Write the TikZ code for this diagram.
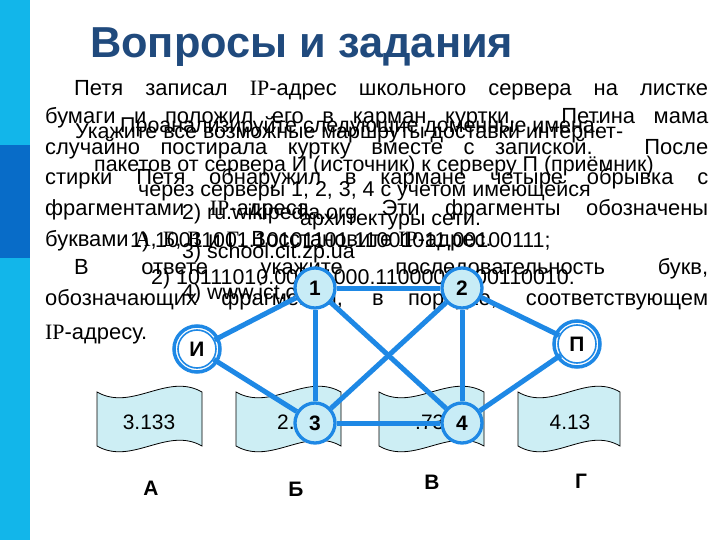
\documentclass[tikz,border=0pt]{standalone}
\usepackage{fontspec}
\setmainfont{Liberation Sans}
\newfontfamily\serifIP{Liberation Serif}
\definecolor{netblue}{RGB}{30,136,229}
\definecolor{nodefill}{RGB}{200,236,246}
\definecolor{fragfill}{RGB}{205,238,244}
\definecolor{barcyan}{RGB}{18,182,234}
\definecolor{bardark}{RGB}{8,108,200}
\definecolor{titleblue}{RGB}{32,74,125}
\pgfdeclarelayer{front}
\pgfsetlayers{main,front}
\newcommand{\wavebox}[4]{%
  \path[frag] (#1,#3) .. controls ({#1+(#2-#1)/3},{#3+20}) and ({#1+2*(#2-#1)/3},{#3-20}) .. (#2,#3)
    -- (#2,#4) .. controls ({#1+2*(#2-#1)/3},{#4-20}) and ({#1+(#2-#1)/3},{#4+20}) .. (#1,#4) -- cycle;}
\tikzset{
  frag/.style={draw=black, line width=0.8bp, fill=fragfill},
  txt/.style={anchor=base west, inner sep=0pt, font=\fontsize{22}{26}\selectfont},
  otxt/.style={anchor=base west, inner sep=0pt, font=\fontsize{21.5}{26}\selectfont},
  fragtxt/.style={inner sep=0pt, font=\fontsize{21}{25}\selectfont},
  letter/.style={inner sep=0pt, font=\fontsize{21}{25}\selectfont\bfseries},
  hub/.style={circle, draw=netblue, line width=3.3bp, fill=nodefill, minimum size=40bp, inner sep=0pt, font=\fontsize{21}{24}\selectfont\bfseries},
  term/.style={circle, draw=netblue, line width=1.6bp, fill=white, minimum size=38bp, inner sep=0pt, font=\fontsize{21}{24}\selectfont\bfseries},
  ring/.style={draw=netblue, line width=3.5bp},
  edge/.style={draw=netblue, line width=5bp}
}
\begin{document}
\begin{tikzpicture}[x=1bp,y=-1bp]
\useasboundingbox (0,0) rectangle (720,540);
\fill[white] (0,0) rectangle (720,540);
% left bar
\fill[barcyan] (0,0) rectangle (30,540);
\fill[bardark] (0,145) rectangle (30,258);
% title
\node[anchor=base west, inner sep=0pt, font=\fontsize{43.5}{48}\selectfont\bfseries, text=titleblue] (title) at (90,58) {Вопросы и задания};
% fragments
\wavebox{97}{202}{392}{446}
\wavebox{236}{341}{392}{446}
\wavebox{379}{484}{392}{446}
\wavebox{518}{620}{392}{446}
\node[fragtxt] (fa) at (149,422) {3.133};
\node[fragtxt, anchor=west] (fb) at (277,422) {2.};
\node[fragtxt, anchor=west] (fc) at (415,422) {.73};
\node[fragtxt] (fg) at (570,422) {4.13};
\node[letter] (la) at (151,488) {А};
\node[letter] (lb) at (296,489) {Б};
\node[letter] (lv) at (432,482) {В};
\node[letter] (lg) at (581,481) {Г};
% overlapping background texts
\node[otxt] (o1) at (120,133) {Проанализируйте следующие доменные имена:};
\node[otxt] (o2) at (75,139) {Укажите все возможные маршруты доставки интернет-};
\node[otxt] (o3) at (94,172) {пакетов от сервера И (источник) к серверу П (приёмник)};
\node[otxt] (o4) at (138,197) {через серверы 1, 2, 3, 4 с учетом имеющейся};
\node[otxt] (o6) at (182,220) {2) ru.wikipedia.org};
\node[otxt] (o5) at (300,226) {архитектуры сети.};
\node[otxt] (o10) at (130,248) {1) 10011001.10101101.11001011.00100111;};
\node[otxt] (o7) at (182,259) {3) school.cit.zp.ua};
\node[otxt] (o8) at (151,285) {2) 10111010.00101000.11000001.00110010.};
\node[otxt] (o9) at (182,299) {4) www.ict.cn};
% main text
\node[txt] (l1) at (74,96) {\makebox[634bp][s]{Петя записал {\serifIP IP}-адрес школьного сервера на листке}};
\node[txt] (l2) at (45,124) {\makebox[663bp][s]{бумаги и положил его в карман куртки. Петина мама}};
\node[txt] (l3) at (45,155) {\makebox[663bp][s]{случайно постирала куртку вместе с запиской. После}};
\node[txt] (l4) at (45,185) {\makebox[663bp][s]{стирки Петя обнаружил в кармане четыре обрывка с}};
\node[txt] (l5) at (45,216) {\makebox[663bp][s]{фрагментами {\serifIP IP}-адреса. Эти фрагменты обозначены}};
\node[txt] (l6) at (45,247) {буквами {\serifIP А}, {\serifIP Б}, {\serifIP В} и {\serifIP Г}. Восстановите {\serifIP IP}-адрес.};
\node[txt] (l7) at (74,275) {\makebox[634bp][s]{В ответе укажите последовательность букв,}};
\node[txt] (l8) at (45,305) {\makebox[663bp][s]{обозначающих фрагменты, в порядке, соответствующем}};
\node[txt] (l9) at (45,339) {{\serifIP IP}-адресу.};
% network nodes
\begin{pgfonlayer}{front}
\node[hub] (n1) at (315,288) {1};
\node[hub] (n2) at (462,288) {2};
\node[hub] (n3) at (315,423) {3};
\node[hub] (n4) at (462,423) {4};
\node[term] (I) at (197,349) {И};
\draw[ring] (I.center) circle[radius=23];
\node[term] (P) at (577,344) {П};
\draw[ring] (P.center) circle[radius=23];
\end{pgfonlayer}
% connectors
\draw[edge] (I) -- (n1);
\draw[edge] (I) -- (n3);
\draw[edge] (n1) -- (n2);
\draw[edge] (n1) -- (n3);
\draw[edge] (n1) -- (n4);
\draw[edge] (n2) -- (n3);
\draw[edge] (n2) -- (n4);
\draw[edge] (n3) -- (n4);
\draw[edge] (n2) -- (P);
\draw[edge] (n4) -- (P);
\end{tikzpicture}
\end{document}
